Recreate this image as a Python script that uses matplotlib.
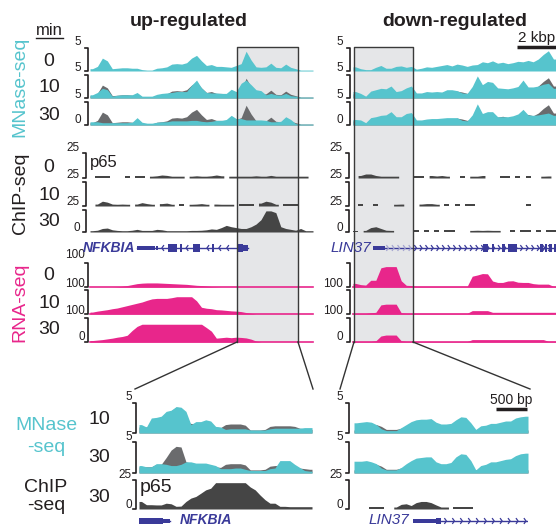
import numpy as np
import matplotlib.pyplot as plt
from matplotlib.patches import Rectangle

plt.rcParams['font.family'] = ['Liberation Sans', 'DejaVu Sans']

W, H = 556, 528
nan = np.nan

CYAN = '#56c4cd'
GREY = '#6a6b6d'
CHIP = '#454545'
PINK = '#e8268b'
NAVY = '#3a3a99'
BOXFILL = '#e5e6e8'
INK = '#231f20'

# ---- data (bins of ~5 px) ----
time_labels = ['0', '10', '30']
mn_scale = ['5', '5', '5', '0']
chip_scale = ['25', '25', '25', '0']
rna_scale = ['100', '100', '100', '0']
zoom_scale = ['5', '5', '25', '0']

# MNase-seq, up-regulated locus (NFKBIA), 0 / 10 / 30 min
mn_up_0 = [0.5, 1.0, 2.8, 2.2, 0.5, 0.6, 0.7, 0.7, 0.6, 0.6,
           0.3, 0.2, 0.2, 0.6, 0.7, 0.9, 1.5, 1.6, 1.5, 1.8,
           2.8, 3.4, 2.2, 1.2, 1.4, 1.0, 1.0, 0.9, 0.8, 1.2,
           1.6, 4.3, 2.4, 0.9, 0.8, 0.9, 1.7, 0.8, 0.7, 1.5,
           0.8, 0.5, 0.2, 0.2, 0.2]
mn_up_10 = [0.7, 1.2, 2.1, 1.8, 0.4, 0.6, 0.7, 0.7, 0.7, 1.2,
            0.4, 0.4, 0.4, 0.8, 1.0, 1.1, 1.2, 1.4, 1.4, 1.4,
            2.8, 3.9, 2.2, 1.2, 1.1, 1.1, 1.0, 1.0, 1.9, 1.4,
            3.2, 3.9, 2.9, 1.8, 1.6, 0.7, 1.0, 0.7, 0.6, 1.0,
            0.5, 0.4, 0.2, 0.2, 0.2]
mn_up_30 = [0.7, 0.7, 0.5, 0.5, 0.5, 0.5, 0.5, 0.5, 0.6, 1.6,
            0.6, 0.4, 0.4, 0.6, 0.7, 0.7, 0.9, 0.9, 0.9, 0.9,
            1.0, 1.0, 0.8, 0.7, 0.8, 1.0, 1.0, 1.2, 2.1, 1.4,
            1.4, 1.1, 1.1, 1.1, 1.1, 1.0, 0.7, 0.7, 0.8, 1.8,
            1.2, 0.3, 0.2, 0.2, 0.2]

# MNase-seq, down-regulated locus (LIN37)
mn_dn_0 = [0.9, 0.5, 0.3, 0.3, 0.8, 1.2, 0.6, 0.6, 1.0, 1.1,
           0.8, 1.0, 0.4, 0.6, 0.9, 0.8, 1.0, 1.2, 1.4, 1.1,
           1.5, 1.3, 1.0, 1.3, 1.4, 2.0, 1.8, 2.2, 1.7, 1.9,
           1.6, 1.8, 2.1, 2.0, 2.3, 2.0, 2.6, 3.6, 4.4, 2.6]
mn_dn_10 = [1.4, 1.0, 0.4, 1.5, 1.8, 2.1, 2.0, 2.6, 1.4, 1.6,
            2.2, 2.6, 1.1, 1.1, 1.4, 1.3, 1.4, 1.3, 1.8, 1.8,
            1.6, 1.1, 1.0, 2.5, 4.8, 2.9, 3.6, 3.4, 2.2, 2.1,
            2.0, 2.2, 2.5, 3.9, 2.4, 2.4, 2.6, 3.0, 3.2, 2.1]
mn_dn_30 = [1.2, 1.1, 0.5, 1.6, 1.8, 2.1, 2.2, 2.9, 1.8, 1.8,
            2.5, 2.7, 1.1, 1.1, 1.3, 1.4, 1.4, 1.5, 1.6, 1.6,
            1.6, 1.0, 0.9, 2.2, 4.6, 2.5, 2.9, 2.9, 1.8, 1.8,
            1.8, 2.0, 2.4, 3.4, 2.2, 2.1, 2.2, 2.4, 2.6, 2.1]

# p65 ChIP-seq (nan = no reads)
ch_up_0 = [nan, 1.8, 1.8, 1.8, nan, nan, nan, 1.8, nan, 1.8,
           1.8, nan, 1.8, 2.2, 3.0, 2.6, 1.8, 1.8, 1.8, nan,
           1.8, 2.2, 1.8, 1.8, 2.2, 3.0, 2.2, nan, 1.8, 1.8,
           1.8, 1.8, 1.8, 2.2, 1.8, 1.8, 2.6, 1.8, 1.8, 1.8,
           1.8, 1.8, 1.8, 1.8, nan]
ch_up_10 = [nan, 2.0, 5.0, 4.0, 2.0, 1.8, 2.0, 1.8, nan, 2.0,
            3.5, 2.5, 1.8, nan, 2.5, 3.0, 1.8, nan, 1.8, nan,
            1.8, 2.0, 2.5, 1.8, nan, 2.0, 1.8, 1.8, 1.8, nan,
            1.8, 1.8, 1.8, nan, 3.0, 5.0, 4.0, 1.8, nan, 1.8,
            1.8, 1.8, nan, nan, nan]
ch_up_30 = [1.5, 2.0, 4.0, 4.5, 2.5, 1.8, 1.5, 1.5, 2.0, 3.0,
            1.8, 1.8, 1.8, 3.0, 2.5, 1.5, 1.5, 1.5, 1.5, 1.5,
            1.8, 1.8, 2.0, 2.5, 3.5, 3.0, 5.0, 7.5, 6.0, 5.0,
            4.0, 4.0, 6.0, 9.0, 14.0, 24.0, 24.0, 22.0, 6.0, 4.0,
            3.0, 2.0, 4.0, 1.5, 1.5]
ch_dn_0 = [nan, 2.5, 4.0, 4.0, 2.5, 1.8, 1.8, 1.8, 1.8, nan,
           nan, nan, 1.8, 1.8, nan, 2.5, 2.0, 2.5, 1.8, nan,
           nan, 1.8, nan, 1.8, 1.8, 2.5, nan, nan, nan, 2.0,
           2.0, nan, 1.8, nan, 2.0, nan, nan, 1.8, 2.0, nan]
ch_dn_10 = [nan, 1.8, nan, nan, 1.8, nan, nan, nan, 1.8, 2.0,
            nan, nan, nan, 2.0, 2.5, 2.5, 1.8, nan, 1.8, nan,
            1.8, nan, 1.8, 1.8, nan, nan, nan, nan, nan, nan,
            nan, nan, nan, nan, 2.0, nan, nan, nan, nan, nan]
ch_dn_30 = [1.5, nan, 1.8, 5.0, 6.0, 4.0, 2.0, 1.8, nan, nan,
            nan, nan, 1.8, nan, 1.8, nan, 1.8, nan, 1.8, 1.8,
            nan, nan, nan, 1.8, 2.0, 1.8, 2.0, 1.8, 1.8, nan,
            nan, 2.0, nan, 1.8, 1.8, nan, 1.8, nan, 1.8, 1.8]

# RNA-seq
rna_up_0 = [0, 0, 0, 0, 0, 1, 3, 6, 10, 14,
            16, 17, 17, 17, 16, 15, 14, 13, 12, 11,
            9, 7, 6, 4, 2, 1, 0, 0, 0, 0,
            0, 0, 0, 0, 0, 0, 0, 0, 0, 0,
            0, 0, 0, 0, 0]
rna_up_10 = [8, 12, 15, 18, 22, 25, 30, 35, 40, 45,
             50, 57, 63, 65, 65, 65, 68, 72, 72, 72,
             72, 55, 28, 24, 22, 18, 17, 15, 13, 12,
             10, 6, 3, 0, 0, 0, 0, 0, 0, 0,
             0, 0, 0, 0, 0]
rna_up_30 = [6, 8, 10, 13, 16, 20, 23, 28, 48, 65,
             74, 74, 74, 74, 74, 74, 74, 74, 74, 74,
             74, 74, 74, 60, 45, 16, 18, 20, 18, 20,
             19, 17, 12, 4, 0, 0, 0, 0, 0, 0,
             0, 0, 0, 0, 0]
rna_dn_0 = [15, 10, 8, 28, 28, 80, 85, 85, 85, 26,
            7, 6, 3, 3, 3, 3, 3, 3, 3, 3,
            3, 3, 3, 45, 50, 56, 55, 25, 19, 19,
            25, 26, 20, 19, 19, 14, 12, 12, 12, 3]
rna_dn_10 = [2, 2, 2, 5, 7, 38, 41, 41, 41, 5,
             3, 3, 3, 3, 3, 3, 3, 3, 3, 3,
             3, 3, 3, 14, 14, 14, 14, 7, 7, 7,
             7, 7, 7, 7, 7, 7, 7, 7, 7, 7]
rna_dn_30 = [2, 2, 2, 2, 5, 25, 29, 29, 29, 5,
             2, 2, 2, 2, 2, 2, 2, 2, 2, 2,
             2, 2, 2, 10, 10, 10, 10, 10, 10, 10,
             10, 10, 10, 10, 10, 10, 10, 10, 3, 3]

# zoomed-in windows (grey boxes)
zl_ref = [1.0, 1.0, 1.0, 1.4, 1.4, 2.5, 3.7, 4.3, 4.2, 1.8,
          1.6, 1.5, 1.4, 1.4, 1.3, 1.0, 0.9, 1.4, 1.5, 1.5,
          1.5, 1.3, 0.5, 0.5, 0.5, 0.6, 1.1, 1.2, 1.2, 1.2,
          1.2, 1.1, 0.8, 0.7, 0.6]
zl_10 = [1.4, 1.0, 2.5, 2.6, 2.8, 3.6, 3.8, 4.4, 4.3, 3.6,
         1.4, 1.9, 1.9, 2.2, 2.0, 1.1, 1.0, 0.6, 0.7, 0.7,
         0.7, 0.7, 0.5, 0.5, 0.5, 0.5, 0.7, 0.8, 0.8, 0.8,
         0.8, 0.8, 0.8, 0.9, 0.9]
zl_30 = [1.2, 1.0, 1.0, 1.5, 1.5, 1.4, 1.2, 1.2, 1.4, 1.8,
         1.8, 1.6, 1.6, 1.6, 1.4, 1.2, 0.7, 0.7, 0.7, 0.8,
         0.8, 0.6, 0.4, 0.4, 0.4, 0.4, 0.7, 0.8, 2.0, 2.0,
         2.0, 1.4, 0.9, 0.4, 0.3]
zl_chip = [6.5, 3.7, 3.7, 3.5, 3.5, 5.0, 4.5, 2.3, 2.5, 6.5,
           9.4, 10.8, 13.6, 16.5, 17.9, 22.7, 22.7, 22.7, 22.7, 22.7,
           22.7, 22.7, 19.0, 16.5, 12.0, 8.0, 5.0, 5.0, 2.3, 2.3,
           2.0, 2.0, 2.0, 2.0, 2.0]
zr_ref = [0.5, 0.5, 0.5, 0.5, 1.4, 1.1, 0.6, 0.6, 0.6, 0.8,
          0.5, 0.5, 0.5, 0.5, 0.5, 0.5, 0.5, 0.5, 0.5, 0.5,
          0.5, 0.5, 0.5, 0.5, 0.5, 0.5, 0.5, 0.5, 0.5, 0.5,
          0.5, 0.5, 0.5, 0.5, 0.5]
zr_10 = [1.7, 1.8, 1.9, 1.8, 1.4, 0.7, 0.4, 0.4, 0.4, 0.9,
         1.4, 1.9, 2.2, 2.3, 2.3, 2.4, 1.8, 1.5, 1.5, 1.6,
         2.2, 2.7, 2.6, 1.7, 0.6, 1.2, 1.3, 1.6, 1.6, 1.8,
         2.0, 2.0, 2.5, 2.7, 2.8]
zr_30 = [1.9, 1.9, 2.0, 1.8, 1.5, 0.8, 0.5, 0.5, 0.5, 0.9,
         1.5, 2.0, 2.4, 2.5, 2.6, 2.6, 1.8, 1.5, 1.5, 1.7,
         2.6, 3.1, 3.0, 2.0, 0.5, 1.2, 1.4, 1.8, 1.8, 2.0,
         2.2, 2.3, 2.8, 3.1, 3.2]
zr_chip = [nan, nan, nan, 1.7, 1.7, 1.7, nan, nan, 1.7, 4.0,
           4.5, 3.0, 5.5, 6.5, 6.5, 5.5, 3.5, 1.7, 1.7, nan,
           1.7, 1.7, 1.7, 1.7, nan, nan, nan, nan, nan, nan,
           nan, nan, nan, nan, nan]

# gene models, in track-bin units: (start, end, half height)
nfkbia_span = [9.5, 31.9]
nfkbia_blocks = [(9.5, 13.1, 0.25), (13.3, 13.7, 0.25), (15.7, 17.5, 0.5),
                 (18.1, 18.5, 0.5), (20.8, 22.2, 0.5), (24.6, 25.0, 0.5),
                 (29.6, 30.8, 0.5), (30.8, 31.9, 0.35)]
nfkbia_arrows = [14.5, 19.4, 23.6, 26.0, 27.6]
lin37_span = [6.3, 40.0]
lin37_blocks = [(3.9, 6.3, 0.3), (25.6, 26.6, 0.5), (27.4, 27.8, 0.5),
                (29.4, 30.0, 0.45), (30.5, 32.3, 0.5), (36.8, 37.4, 0.5),
                (37.8, 38.2, 0.5), (38.6, 39.2, 0.5), (39.6, 40.0, 0.45)]
nfkbia_z_blocks = [(0.0, 4.9, 0.35), (4.9, 6.3, 0.25)]
lin37_z_span = [17.5, 35.0]
lin37_z_blocks = [(11.9, 16.5, 0.3), (16.5, 17.5, 0.4)]

# ---- layout (pixels) ----
MN_ROWS = [(48, 71), (75, 98), (102, 125)]
CH_ROWS = [(153, 178), (182, 206), (210, 232)]
RNA_ROWS = [(263, 287), (290, 314), (318, 342)]
Z_ROWS = [(403, 433), (442, 473), (480, 509)]
LX = (90, 313)
RX = (353, 556)
ZLX = (139, 312)
ZRX = (354, 528)

fig = plt.figure(figsize=(W / 100, H / 100), dpi=100)


def pixel_axes(z):
    ax = fig.add_axes([0, 0, 1, 1], zorder=z)
    ax.set_xlim(0, W)
    ax.set_ylim(H, 0)
    ax.axis('off')
    return ax


bg = pixel_axes(0)
fg = pixel_axes(5)


def sub_axes(xr, ytop, ybot, xmax, ylo, yhi):
    x0, x1 = xr
    ax = fig.add_axes([x0 / W, 1 - ybot / H, (x1 - x0) / W, (ybot - ytop) / H], zorder=2)
    ax.set_xlim(0, xmax)
    ax.set_ylim(ylo, yhi)
    ax.axis('off')
    return ax


def profile(ax, vals, color):
    # one filled polygon per run of covered bins, points at bin centres
    v = np.asarray(vals, dtype=float)
    ok = ~np.isnan(v)
    i = 0
    while i < len(v):
        if not ok[i]:
            i += 1
            continue
        j = i
        while j < len(v) and ok[j]:
            j += 1
        xs = np.r_[i, np.arange(i, j) + 0.5, j]
        ys = np.r_[v[i], v[i:j], v[j - 1]]
        ax.fill_between(xs, ys, color=color, lw=0)
        i = j


def mnase(xr, row, vals, ref=None):
    ax = sub_axes(xr, row[0], row[1], len(vals), 0, 5)
    if ref is not None:
        profile(ax, ref, GREY)
    profile(ax, vals, CYAN)


def chip(xr, row, vals):
    ax = sub_axes(xr, row[0], row[1], len(vals), 0, 25)
    profile(ax, vals, CHIP)


def rna(xr, row, vals):
    ax = sub_axes(xr, row[0], row[1], len(vals), 0, 100)
    ax.plot([0, len(vals)], [0, 0], color=PINK, lw=1.2, clip_on=False)
    profile(ax, vals, PINK)


def gene(xr, yc, n, span, blocks, arrows, sign, light_below=None):
    ax = sub_axes(xr, yc - 8, yc + 8, n, -1, 1)
    ax.plot(span, [0, 0], color=NAVY, lw=1)
    for p in arrows:
        c = NAVY
        if light_below is not None and p < light_below:
            c = '#a4a4d0'
        ax.plot([p + sign * 0.35, p, p + sign * 0.35], [0.3, 0, -0.3], color=c, lw=0.9)
    for s, e, h in blocks:
        ax.add_patch(Rectangle((s, -h), e - s, 2 * h, color=NAVY, lw=0))


def bracket(x, rows):
    for top, bot in rows:
        fg.plot([x - 3, x, x, x - 3], [top, top, bot, bot], color=INK, lw=1.2)


def scale_labels(x, ys, labels):
    for y, s in zip(ys, labels):
        if s:
            fg.text(x, y, s, ha='right', va='center', fontsize=8.5, color=INK)


# grey highlight boxes
for bx0, bx1 in [(237, 298), (354, 413)]:
    bg.add_patch(Rectangle((bx0, 47), bx1 - bx0, 295, facecolor=BOXFILL, lw=0))
    fg.plot([bx0, bx0, bx1, bx1], [342, 47, 47, 342], color='#3a3a3a', lw=1)

# top tracks
mnase(LX, MN_ROWS[0], mn_up_0)
mnase(LX, MN_ROWS[1], mn_up_10, mn_up_0)
mnase(LX, MN_ROWS[2], mn_up_30, mn_up_0)
mnase(RX, MN_ROWS[0], mn_dn_0)
mnase(RX, MN_ROWS[1], mn_dn_10, mn_dn_0)
mnase(RX, MN_ROWS[2], mn_dn_30, mn_dn_0)
for row, a, b in zip(CH_ROWS, [ch_up_0, ch_up_10, ch_up_30], [ch_dn_0, ch_dn_10, ch_dn_30]):
    chip(LX, row, a)
    chip(RX, row, b)
for row, a, b in zip(RNA_ROWS, [rna_up_0, rna_up_10, rna_up_30], [rna_dn_0, rna_dn_10, rna_dn_30]):
    rna(LX, row, a)
    rna(RX, row, b)

gene(LX, 248, len(mn_up_0), nfkbia_span, nfkbia_blocks, nfkbia_arrows, 1)
gene(RX, 248, len(mn_dn_0), lin37_span, lin37_blocks, np.arange(7.0, 40.0, 1.1), -1,
     light_below=11.8)

# zoomed tracks
mnase(ZLX, Z_ROWS[0], zl_10, zl_ref)
mnase(ZLX, Z_ROWS[1], zl_30, zl_ref)
chip(ZLX, Z_ROWS[2], zl_chip)
mnase(ZRX, Z_ROWS[0], zr_10, zr_ref)
mnase(ZRX, Z_ROWS[1], zr_30, zr_ref)
chip(ZRX, Z_ROWS[2], zr_chip)
gene(ZLX, 521, len(zl_10), [0, 6.3], nfkbia_z_blocks, [], 1)
gene(ZRX, 521, len(zr_10), lin37_z_span, lin37_z_blocks, np.arange(18.6, 35.0, 1.6), -1)

# scale brackets and labels
bracket(88, MN_ROWS)
bracket(86, CH_ROWS)
bracket(88, RNA_ROWS)
bracket(350, MN_ROWS)
bracket(349, CH_ROWS)
bracket(350, RNA_ROWS)
bracket(136, Z_ROWS)
bracket(349, Z_ROWS)
scale_labels(81, [42, 68, 95, 120], mn_scale)
scale_labels(80, [148, 175, 202, 228], chip_scale)
scale_labels(85, [255, 284, 311, 337], rna_scale)
scale_labels(343, [42, 68, 95, 120], mn_scale)
scale_labels(343, [148, 175, 202, 228], chip_scale)
scale_labels(343, [255, 284, 311, 337], [''] + rna_scale[1:])
scale_labels(132, [397, 437, 475, 505], zoom_scale)
scale_labels(343, [397, 437, 475, 505], zoom_scale)

# row labels
for ys in ([61, 88, 115], [167, 195, 222], [275, 303, 330]):
    for y, s in zip(ys, time_labels):
        fg.text(49, y, s, ha='center', va='center', fontsize=14, color=INK)
for y, s in zip([420, 458, 497], ['10', '30', '30']):
    fg.text(99, y, s, ha='center', va='center', fontsize=14, color=INK)

fg.text(20, 87, 'MNase-seq', rotation=90, ha='center', va='center', fontsize=14, color=CYAN)
fg.text(20, 193, 'ChIP-seq', rotation=90, ha='center', va='center', fontsize=14, color=INK)
fg.text(20, 302, 'RNA-seq', rotation=90, ha='center', va='center', fontsize=14, color=PINK)
fg.text(46, 425, 'MNase', ha='center', va='center', fontsize=14, color=CYAN)
fg.text(46, 448, '-seq', ha='center', va='center', fontsize=14, color=CYAN)
fg.text(46, 487, 'ChIP', ha='center', va='center', fontsize=14, color=INK)
fg.text(46, 505, '-seq', ha='center', va='center', fontsize=14, color=INK)

fg.text(49, 35, 'min', ha='center', va='baseline', fontsize=12, color=INK)
fg.plot([36, 63], [38, 38], color=INK, lw=1)

fg.text(189, 26, 'up-regulated', ha='center', va='baseline', fontsize=14,
        weight='bold', color=INK)
fg.text(455, 26, 'down-regulated', ha='center', va='baseline', fontsize=14,
        weight='bold', color=INK)

fg.text(90, 162, 'p65', ha='left', va='center', fontsize=12, color=INK)
fg.text(140, 487, 'p65', ha='left', va='center', fontsize=14, color=INK)

fg.text(135, 248, 'NFKBIA', ha='right', va='center', fontsize=10, style='italic',
        weight='bold', color=NAVY)
fg.text(371, 248, 'LIN37', ha='right', va='center', fontsize=11, style='italic', color=NAVY)
fg.text(180, 520, 'NFKBIA', ha='left', va='center', fontsize=10, style='italic',
        weight='bold', color=NAVY)
fg.text(409, 520, 'LIN37', ha='right', va='center', fontsize=11, style='italic', color=NAVY)

# scale bars
fg.text(537, 42, '2 kbp', ha='center', va='baseline', fontsize=11, color=INK)
fg.plot([517, 556], [47, 47], color=INK, lw=2.5, solid_capstyle='butt')
fg.text(511, 404, '500 bp', ha='center', va='baseline', fontsize=10, color=INK)
fg.plot([496, 527], [409, 409], color=INK, lw=2.5, solid_capstyle='butt')

# lines from the grey boxes to the zoomed panels
for (xa, xb) in [(237, 135), (298, 313), (354, 340), (413, 530)]:
    fg.plot([xa, xb], [342, 389], color='#333333', lw=1)

fig.savefig('out.png', dpi=100)
